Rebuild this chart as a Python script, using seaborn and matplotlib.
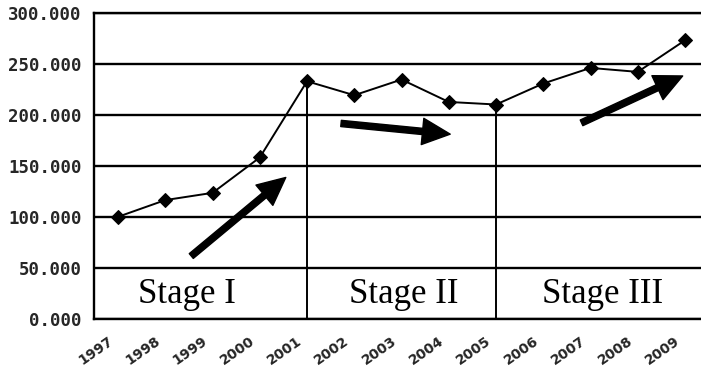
import matplotlib
matplotlib.use("Agg")
import matplotlib.pyplot as plt
from matplotlib.transforms import ScaledTranslation
import seaborn as sns
import pandas as pd

# values
years = [1997, 1998, 1999, 2000, 2001, 2002, 2003, 2004, 2005, 2006, 2007, 2008, 2009]
values = [100.0, 116.4, 123.5, 158.2, 233.0, 219.3, 234.7, 212.7, 210.2, 230.8, 246.1, 242.2, 273.2]
ytick_vals = [0, 50, 100, 150, 200, 250, 300]
ytick_labels = ["0.000", "50.000", "100.000", "150.000", "200.000", "250.000", "300.000"]
stage_names = ["Stage I", "Stage II", "Stage III"]
stage_x = [1998.45, 2003.05, 2007.25]
stage_y = [15, 15, 15]
split_years = [2001, 2005]
# trend arrows: (tail x, tail y, tip x, tip y)
arrows = [
    (1998.55, 61.5, 2000.55, 138.6),
    (2001.72, 191.6, 2004.03, 181.1),
    (2006.81, 192.2, 2008.95, 238.2),
]

df = pd.DataFrame({"year": years, "value": values})

sns.set_style("white")
plt.rcParams["font.family"] = ["DejaVu Sans"]

fig = plt.figure(figsize=(7.01, 3.67), dpi=100)
ax = fig.add_axes([0.1347, 0.1316, 0.8762, 0.833])

sns.lineplot(data=df, x="year", y="value", ax=ax, color="black", linewidth=1.4,
             marker="D", markersize=7, markeredgecolor="black", markerfacecolor="black")

# stage separators, drawn up to the data point
split_vals = [values[years.index(y)] for y in split_years]
ax.vlines(split_years, 0, split_vals, colors="black", linewidth=1.4, zorder=1)

ax.set_xlim(1996.5, 2009.5)
ax.set_ylim(0, 300)
ax.set_xlabel("")
ax.set_ylabel("")

ax.set_yticks(ytick_vals, ytick_labels)
for lab in ax.get_yticklabels():
    lab.set_fontfamily("DejaVu Sans Mono")
    lab.set_fontweight("bold")
    lab.set_fontsize(12.5)
ax.tick_params(axis="y", length=0, pad=9)
ax.yaxis.grid(True, color="black", linewidth=1.7)
ax.set_axisbelow(True)

ax.set_xticks(years, [str(y) for y in years], rotation=35, ha="right",
              va="center", rotation_mode="anchor", fontsize=10, fontweight="bold")
ax.set_xticks([y + 0.5 for y in years[:-1]], minor=True)
ax.tick_params(axis="x", which="major", length=0, pad=15)
ax.tick_params(axis="x", which="minor", direction="in", length=3, width=1.3, color="black")
shift = ScaledTranslation(-0.065, 0, fig.dpi_scale_trans)
for lab in ax.get_xticklabels():
    lab.set_transform(lab.get_transform() + shift)

for sp in ax.spines.values():
    sp.set_color("black")
    sp.set_linewidth(1.7)

for name, sx, sy in zip(stage_names, stage_x, stage_y):
    ax.text(sx, sy, name, ha="center", va="baseline", fontsize=25,
            family="Liberation Serif", color="black")

for x0, y0, x1, y1 in arrows:
    ax.annotate("", xy=(x1, y1), xytext=(x0, y0),
                arrowprops=dict(facecolor="black", edgecolor="black", width=4.5,
                                headwidth=19, headlength=20, shrink=0))

fig.savefig("out.png", dpi=100)
